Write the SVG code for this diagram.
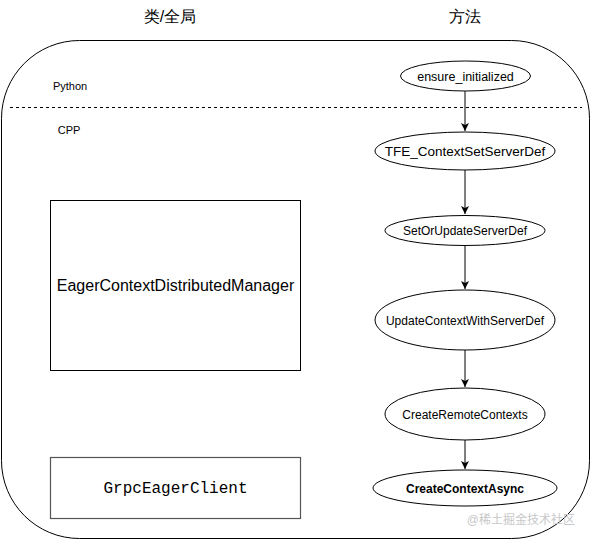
<svg xmlns="http://www.w3.org/2000/svg" width="591" height="541" viewBox="0 0 591 541">
<defs>
<marker id="ah" markerWidth="10" markerHeight="10" refX="8" refY="5" orient="auto" markerUnits="userSpaceOnUse">
<path d="M0,1 L8,5 L0,9 L2,5 Z" fill="#000"/>
</marker>
<style>
.t{font-family:"Liberation Sans",Arial,sans-serif;fill:#000;text-anchor:middle}
.e{fill:#fff;stroke:#000;stroke-width:1}
.c{stroke:#000;stroke-width:1;fill:none;marker-end:url(#ah)}
</style>
</defs>
<rect width="591" height="541" fill="#fff"/>
<text class="t" x="170" y="22" font-size="16">类/全局</text>
<text class="t" x="465" y="22" font-size="16">方法</text>
<g id="container">
<rect x="1.5" y="40.5" width="588" height="498" rx="78" ry="78" fill="none" stroke="#000" stroke-width="1"/>
<line x1="10" y1="107.5" x2="582" y2="107.5" stroke="#000" stroke-dasharray="3,3"/>
<text class="t" x="70" y="90" font-size="11">Python</text>
<text class="t" x="69" y="134" font-size="11">CPP</text>
</g>
<g id="connectors">
<line class="c" x1="465" y1="91" x2="465" y2="131"/>
<line class="c" x1="465" y1="170" x2="465" y2="214"/>
<line class="c" x1="465" y1="245" x2="465" y2="289"/>
<line class="c" x1="465" y1="350" x2="465" y2="387"/>
<line class="c" x1="465" y1="440" x2="465" y2="469"/>
</g>
<g id="ensure_initialized">
<ellipse class="e" cx="465.5" cy="76" rx="65" ry="15"/>
<text class="t" x="465.5" y="80.5" font-size="12.5">ensure_initialized</text>
</g>
<g id="TFE_ContextSetServerDef">
<ellipse class="e" cx="465" cy="151" rx="90" ry="19"/>
<text class="t" x="465" y="156" font-size="13.5">TFE_ContextSetServerDef</text>
</g>
<g id="SetOrUpdateServerDef">
<ellipse class="e" cx="465" cy="230.5" rx="80" ry="15"/>
<text class="t" x="465" y="235" font-size="12">SetOrUpdateServerDef</text>
</g>
<g id="UpdateContextWithServerDef">
<ellipse class="e" cx="465" cy="320" rx="90" ry="30"/>
<text class="t" x="465" y="324.5" font-size="12">UpdateContextWithServerDef</text>
</g>
<g id="CreateRemoteContexts">
<ellipse class="e" cx="465" cy="414" rx="80" ry="26"/>
<text class="t" x="465" y="418.5" font-size="12">CreateRemoteContexts</text>
</g>
<g id="CreateContextAsync">
<ellipse class="e" cx="465" cy="488" rx="92" ry="18"/>
<text class="t" x="465" y="492.5" font-size="12" font-weight="bold">CreateContextAsync</text>
</g>
<g id="EagerContextDistributedManager">
<rect x="50.5" y="200.5" width="250" height="170" fill="#fff" stroke="#000"/>
<text class="t" x="175.5" y="291" font-size="16">EagerContextDistributedManager</text>
</g>
<g id="GrpcEagerClient">
<rect x="50.5" y="457.5" width="250" height="61" fill="#fff" stroke="#555" stroke-width="1.2"/>
<text x="175.5" y="493" font-size="16" text-anchor="middle" font-family="'Liberation Mono','Courier New',monospace" fill="#000">GrpcEagerClient</text>
</g>
<text x="575" y="524" font-size="12" text-anchor="end" font-family="'Liberation Sans','Noto Sans CJK SC',sans-serif" fill="#c8c8c8">@稀土掘金技术社区</text>
</svg>
